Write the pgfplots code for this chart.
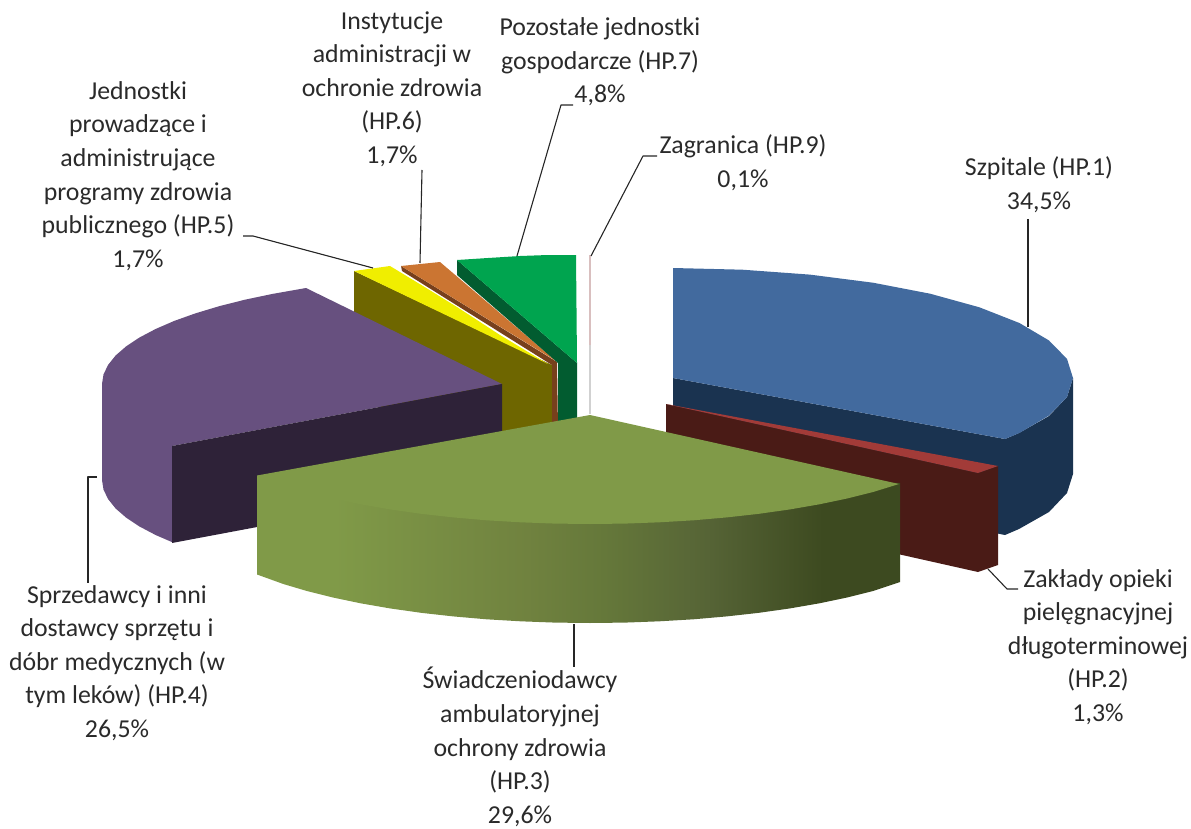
\documentclass[border=0pt]{standalone}
\usepackage{pgfplots}
\pgfplotsset{compat=1.18}
\usepackage{fontspec}
\setmainfont{Carlito}
\definecolor{bluetop}{HTML}{426A9E}
\definecolor{blueside}{HTML}{1A3350}
\definecolor{redtop}{HTML}{A23B38}
\definecolor{redside}{HTML}{4A1B16}
\definecolor{greentop}{HTML}{809A48}
\definecolor{gs1}{HTML}{70823F}
\definecolor{gs2}{HTML}{65783A}
\definecolor{gs3}{HTML}{566436}
\definecolor{gs4}{HTML}{3D4A20}
\definecolor{gs5}{HTML}{3A4820}
\definecolor{purp}{HTML}{67507F}
\definecolor{purpdark}{HTML}{2E2238}
\definecolor{olive}{HTML}{6E6600}
\definecolor{yell}{HTML}{F0EE00}
\definecolor{orng}{HTML}{CB7532}
\definecolor{brwn}{HTML}{77401C}
\definecolor{grn}{HTML}{00A44F}
\definecolor{grndark}{HTML}{025C30}
\definecolor{txt}{HTML}{2A2A2A}
\pgfdeclarehorizontalshading{greenside}{100bp}{color(0bp)=(greentop); color(31bp)=(greentop); color(46bp)=(gs1); color(52bp)=(gs2); color(60bp)=(gs3); color(69bp)=(gs4); color(100bp)=(gs5)}
\tikzset{
  lab/.style={align=center, text=txt, font=\fontsize{25.8}{33.6}\selectfont, inner sep=0pt},
  lead/.style={draw=black!85, line width=1.1pt},
}
\begin{document}
\begin{tikzpicture}
\begin{axis}[
  scale only axis, width=1191pt, height=829pt,
  xmin=0, xmax=1191, ymin=0, ymax=829, y dir=reverse,
  hide axis, clip=false, no markers,
  every axis plot/.append style={draw=none, line join=round},
]
% HP.1
\addplot[fill=blueside] coordinates {(673,378)(1005,439)(1019,433)(1049,416)(1067,397)(1073,378)(1073,474)(1067,493)(1049,512)(1019,529)(1005,535)(673,470)};
\addplot[fill=bluetop] coordinates {(673,268)(742.5,269.7)(809.8,274.6)(873,282.7)(930.1,293.7)(979.4,307.3)(1019.4,323)(1048.9,340.4)(1067,358.9)(1073,378)(1067,397.1)(1048.9,415.6)(1019.4,433)(1005,439)(673,378)};
% HP.2
\addplot[fill=redside] coordinates {(666,404)(978,473)(998,466)(998,565)(978,572)(666,502)};
\addplot[fill=redtop] coordinates {(666,404)(998,466)(978,473)};
% HP.5
\addplot[fill=olive] coordinates {(354,271)(552,365)(552,435)(502,445)(354,400)};
\addplot[fill=yell] coordinates {(354,271)(390,266)(423,286)(457,307)(500,335)(548,364)};
% HP.6
\addplot[fill=brwn] coordinates {(401,266)(557,362)(558,430)(552,430)(552,365)(402,271)};
\addplot[fill=orng] coordinates {(401,266)(440,262)(556,361)};
% HP.7
\addplot[fill=grndark] coordinates {(457,260)(577,363)(577,428)(558,428)(558,363)(457,275)};
\addplot[fill=grn] coordinates {(457,260)(488,258)(520,256)(548,255)(576,255)(577,363)};
% HP.9
\addplot[draw=red!25!gray!40, line width=1.4pt] coordinates {(590,255)(590,345)};
\addplot[draw=black!18, line width=1.4pt] coordinates {(590,345)(590,414)};
% HP.4
\addplot[fill=purp] coordinates {(306,288)(272.6,293.9)(244.9,299.7)(219.2,306.2)(195.6,313.3)(174.3,320.9)(155.6,329)(139.5,337.5)(126.1,346.4)(115.6,355.5)(108.1,364.9)(103.5,374.4)(102,384)(102,480)(103.5,489.6)(108.1,499.1)(115.6,508.5)(126.1,517.6)(139.5,526.5)(155.6,535)(172,542.1)(172,446)(502,384)};
\addplot[fill=purpdark] coordinates {(172,446)(502,384)(502,481)(172,543)};
% HP.3
\addplot[shade, shading=greenside] coordinates {(257,475.5)(900,483)(900,582)(872.8,591.1)(847.1,597.5)(819.4,603.3)(790,608.4)(759,612.8)(726.8,616.4)(693.5,619.3)(659.5,621.3)(624.9,622.6)(590,623)(555.1,622.6)(520.5,621.3)(486.5,619.3)(453.2,616.4)(421,612.8)(390,608.4)(360.6,603.3)(332.9,597.5)(307.2,591.1)(283.6,584.1)(257,574.5)};
\addplot[fill=greentop] coordinates {(590,415)(899,484)(872.8,492.1)(847.1,498.5)(819.4,504.3)(790,509.4)(759,513.8)(726.8,517.4)(693.5,520.3)(659.5,522.3)(624.9,523.6)(590,524)(555.1,523.6)(520.5,522.3)(486.5,520.3)(453.2,517.4)(421,513.8)(390,509.4)(360.6,504.3)(332.9,498.5)(307.2,492.1)(283.6,485.1)(257,475.5)};
% leaders
\addplot[lead] coordinates {(1028,219)(1028,327)};
\addplot[lead] coordinates {(988,569)(1007,589)(1018,589)};
\addplot[lead] coordinates {(574,624)(574,667)};
\addplot[lead] coordinates {(97,477)(88,477)(88,583)};
\addplot[lead] coordinates {(243,236)(253,236)(373,268)};
\addplot[lead] coordinates {(422,170)(420,263)};
\addplot[lead] coordinates {(573,105)(561,105)(517,256)};
\addplot[lead] coordinates {(657,156)(643,156)(591,256)};
% labels
\node[lab] at (axis cs:1039,185) {Szpitale (HP.1)\\34,5\%};
\node[lab] at (axis cs:1098,647) {Zakłady opieki\\pielęgnacyjnej\\długoterminowej\\(HP.2)\\1,3\%};
\node[lab] at (axis cs:520,747) {Świadczeniodawcy\\ambulatoryjnej\\ochrony zdrowia\\(HP.3)\\29,6\%};
\node[lab] at (axis cs:117,663) {Sprzedawcy i inni\\dostawcy  sprzętu i\\dóbr medycznych (w\\tym leków) (HP.4)\\26,5\%};
\node[lab] at (axis cs:138,176) {Jednostki\\prowadzące i\\administrujące\\programy zdrowia\\publicznego (HP.5)\\1,7\%};
\node[lab] at (axis cs:392,89) {Instytucje\\administracji w\\ochronie zdrowia\\(HP.6)\\1,7\%};
\node[lab] at (axis cs:600,62) {Pozostałe jednostki\\gospodarcze (HP.7)\\4,8\%};
\node[lab] at (axis cs:743,163) {Zagranica (HP.9)\\0,1\%};
\end{axis}
\pgfresetboundingbox
\path[use as bounding box] (current axis.south west) rectangle (current axis.north east);
\end{tikzpicture}
\end{document}
